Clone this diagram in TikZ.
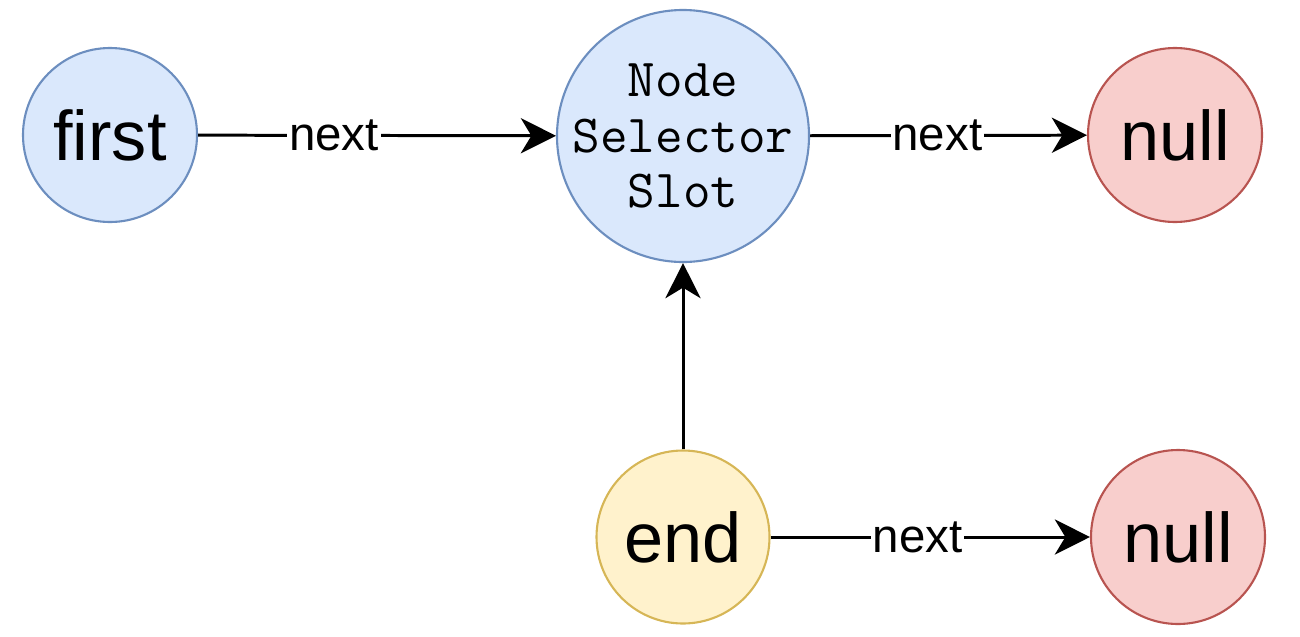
\documentclass[tikz,border=0pt]{standalone}
\usepackage{fontspec}
\setmainfont{Liberation Sans}
\usetikzlibrary{arrows.meta}
\definecolor{bluefill}{HTML}{DAE8FC}
\definecolor{bluedraw}{HTML}{6C8EBF}
\definecolor{redfill}{HTML}{F8CECC}
\definecolor{reddraw}{HTML}{B85450}
\definecolor{yelfill}{HTML}{FFF2CC}
\definecolor{yeldraw}{HTML}{D6B656}
\begin{document}
\begin{tikzpicture}[x=0.02cm,y=-0.02cm,
  circ/.style={circle,line width=1.2pt,inner sep=0pt,font=\fontsize{40}{46}\selectfont},
  bluec/.style={circ,fill=bluefill,draw=bluedraw},
  redc/.style={circ,fill=redfill,draw=reddraw},
  yelc/.style={circ,fill=yelfill,draw=yeldraw},
  conn/.style={line width=1.7pt,-{Stealth[length=20pt,width=20pt,inset=6pt]}},
  lbl/.style={fill=white,inner sep=1pt,font=\fontsize{27}{30}\selectfont}]
\useasboundingbox (0,0) rectangle (1300,636);
\node[bluec,minimum size=174*0.02cm] (first) at (110,135) {first};
\node[bluec,minimum size=252*0.02cm] (nss) at (683,136) {};
\node[font=\ttfamily\fontsize{30.5}{31.5}\selectfont,align=center,inner sep=0pt] (nsstext) at (nss.center) {Node\\Selector\\Slot};
\node[redc,minimum size=174*0.02cm] (null1) at (1175,135) {null};
\node[yelc,minimum size=173*0.02cm] (end) at (683,537) {end};
\node[redc,minimum size=174*0.02cm] (null2) at (1178,537) {null};
\draw[conn] (first) -- node[lbl,pos=0.38] {next} (nss);
\draw[conn] (nss) -- node[lbl,pos=0.46] {next} (null1);
\draw[conn] (end) -- node[lbl,pos=0.46] {next} (null2);
\draw[conn] (end) -- (nss);
\end{tikzpicture}
\end{document}
